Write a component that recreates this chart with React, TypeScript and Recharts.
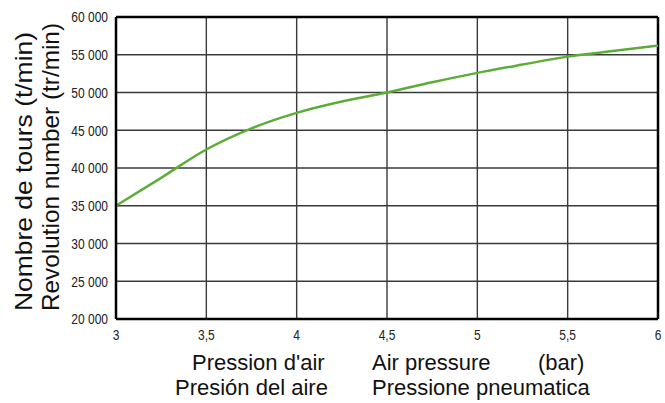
import { LineChart, Line, XAxis, YAxis, CartesianGrid, ReferenceLine, Label } from "recharts";

const pressure = [3, 3.25, 3.5, 3.75, 4, 4.25, 4.5, 4.75, 5, 5.25, 5.5, 5.75, 6];
const rpm = [35000, 38700, 42450, 45250, 47300, 48800, 50000, 51350, 52600, 53700, 54750, 55500, 56200];
const xTicks = [3, 3.5, 4, 4.5, 5, 5.5, 6];
const yTicks = [20000, 25000, 30000, 35000, 40000, 45000, 50000, 55000, 60000];

const data = pressure.map((p, i) => ({ p, rpm: rpm[i] }));

const font = "'Liberation Sans', Arial, sans-serif";

// condensed tick text (no narrow font installed, so squeeze Liberation Sans)
const NarrowTick = (props: any) => {
  const { x, y, payload, anchor, dy, fmt } = props;
  return (
    <text
      transform={`translate(${x},${y}) scale(0.8,1)`}
      textAnchor={anchor}
      dy={dy}
      fontFamily={font}
      fontSize={15}
      fill="#222"
    >
      {fmt(payload.value)}
    </text>
  );
};

const XTitle = () => (
  <g fontFamily={font} fontSize={22} fill="#111">
    <text x={192} y={370}>Pression d'air</text>
    <text x={372} y={370}>Air pressure</text>
    <text x={538} y={370}>(bar)</text>
    <text x={175} y={395}>Presión del aire</text>
    <text x={372} y={395}>Pressione pneumatica</text>
  </g>
);

const YTitle = () => (
  <g fontFamily={font} fontSize={24} fill="#111">
    <text transform="translate(32,311) rotate(-90)" textLength={279} lengthAdjust="spacingAndGlyphs">
      Nombre de tours (t/min)
    </text>
    <text transform="translate(59,311) rotate(-90)" textLength={288} lengthAdjust="spacingAndGlyphs">
      Revolution number (tr/min)
    </text>
  </g>
);

export default function App() {
  return (
    <div style={{ width: 665, height: 403 }}>
      <style>{`body{margin:0}`}</style>
      <LineChart
        width={665}
        height={403}
        data={data}
        margin={{ top: 17, right: 7, left: 0, bottom: 0 }}
      >
        <CartesianGrid stroke="#3a3a3a" strokeWidth={1.4} />
        <XAxis
          dataKey="p"
          type="number"
          domain={[3, 6]}
          ticks={xTicks}
          interval={0}
          height={84}
          tickSize={0}
          tickMargin={10}
          tick={<NarrowTick anchor="middle" dy="0.71em" fmt={(v: number) => String(v).replace(".", ",")} />}
          axisLine={{ stroke: "#000", strokeWidth: 2.5 }}
        >
          <Label content={<XTitle />} />
        </XAxis>
        <YAxis
          type="number"
          domain={[20000, 60000]}
          ticks={yTicks}
          interval={0}
          width={116}
          tickSize={0}
          tickMargin={8}
          tick={<NarrowTick anchor="end" dy="0.355em" fmt={(v: number) => `${Math.round(v / 1000)} 000`} />}
          axisLine={{ stroke: "#000", strokeWidth: 2.5 }}
        >
          <Label content={<YTitle />} />
        </YAxis>
        <ReferenceLine y={60000} stroke="#000" strokeWidth={2.5} />
        <ReferenceLine x={6} stroke="#000" strokeWidth={2.5} />
        <Line
          type="monotone"
          dataKey="rpm"
          stroke="#5cad38"
          strokeWidth={2.5}
          dot={false}
          isAnimationActive={false}
        />
      </LineChart>
    </div>
  );
}
